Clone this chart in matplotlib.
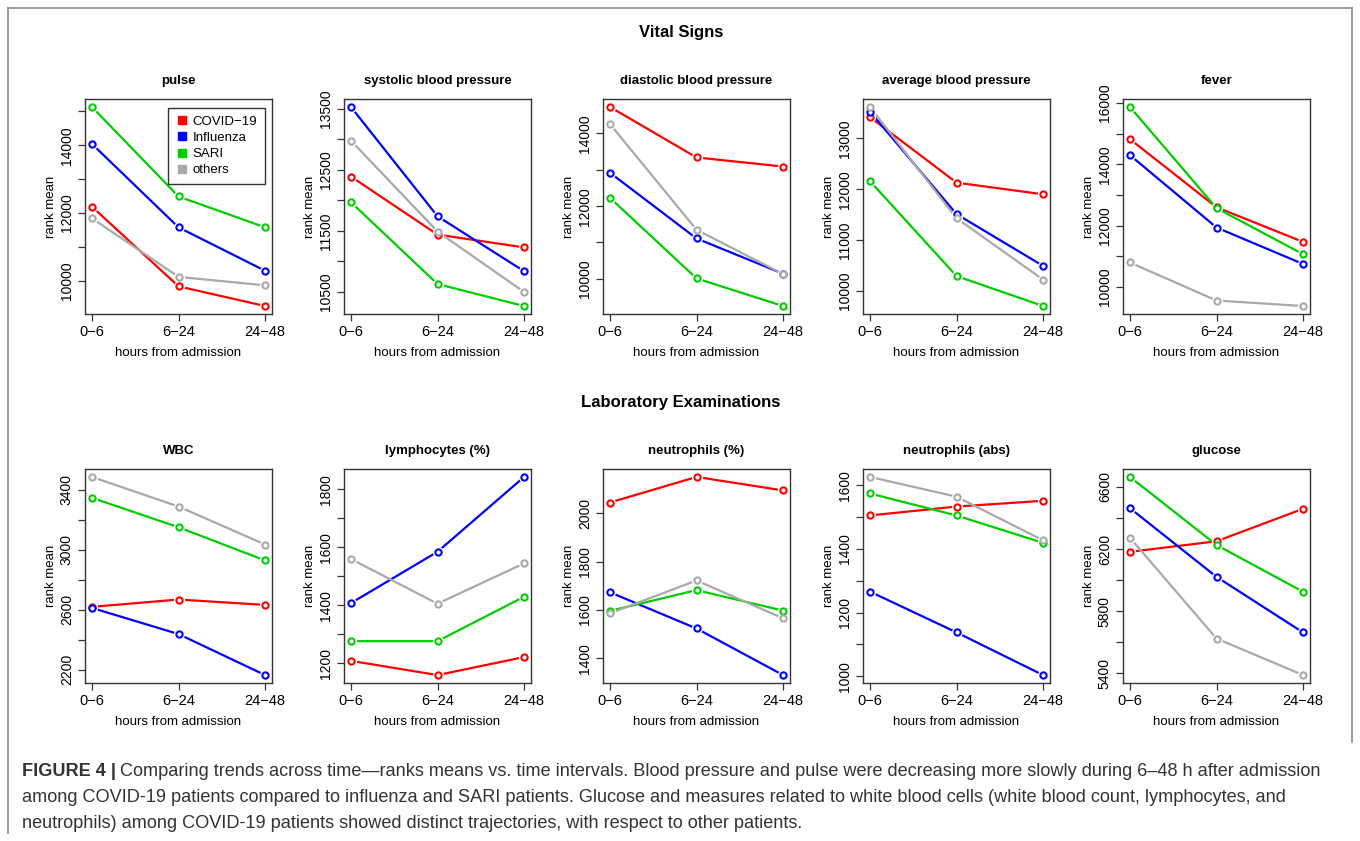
import numpy as np
import matplotlib
matplotlib.use("Agg")
import matplotlib.pyplot as plt
from matplotlib.lines import Line2D

plt.rcParams['font.family'] = ['Liberation Sans', 'DejaVu Sans']

# Data: rank means per time interval
intervals = ["0\u22126", "6\u221224", "24\u221248"]
groups = ["COVID\u221219", "Influenza", "SARI", "others"]
colors = ["#FF0000", "#0000FF", "#00CD00", "#A9A9A9"]

pulse_covid = [12190, 9840, 9260]
pulse_flu = [14040, 11580, 10300]
pulse_sari = [15130, 12490, 11580]
pulse_oth = [11850, 10120, 9870]

sys_covid = [12390, 11440, 11230]
sys_flu = [13530, 11740, 10840]
sys_sari = [11970, 10630, 10270]
sys_oth = [12980, 11490, 10500]

dia_covid = [14730, 13340, 13090]
dia_flu = [12920, 11110, 10140]
dia_sari = [12230, 10010, 9250]
dia_oth = [14260, 11350, 10130]

avg_covid = [13420, 12130, 11900]
avg_flu = [13530, 11510, 10490]
avg_sari = [12160, 10290, 9700]
avg_oth = [13620, 11430, 10220]

fev_covid = [14820, 12600, 11470]
fev_flu = [14300, 11940, 10750]
fev_sari = [15870, 12570, 11070]
fev_oth = [10800, 9560, 9380]

wbc_covid = [2619, 2668, 2632]
wbc_flu = [2612, 2438, 2165]
wbc_sari = [3345, 3149, 2928]
wbc_oth = [3484, 3287, 3034]

lym_covid = [1209, 1160, 1222]
lym_flu = [1408, 1585, 1843]
lym_sari = [1277, 1277, 1430]
lym_oth = [1560, 1406, 1545]

neup_covid = [2045, 2151, 2095]
neup_flu = [1673, 1523, 1330]
neup_sari = [1596, 1682, 1597]
neup_oth = [1586, 1722, 1565]

neua_covid = [1505, 1533, 1551]
neua_flu = [1266, 1138, 1004]
neua_sari = [1574, 1505, 1419]
neua_oth = [1626, 1564, 1427]

glu_covid = [6182, 6250, 6459]
glu_flu = [6463, 6021, 5663]
glu_sari = [6664, 6226, 5925]
glu_oth = [6273, 5624, 5389]

# (title, series, tick step, label every n-th tick)
vital = [
    ("pulse", [pulse_covid, pulse_flu, pulse_sari, pulse_oth], 1000, 2),
    ("systolic blood pressure", [sys_covid, sys_flu, sys_sari, sys_oth], 500, 2),
    ("diastolic blood pressure", [dia_covid, dia_flu, dia_sari, dia_oth], 1000, 2),
    ("average blood pressure", [avg_covid, avg_flu, avg_sari, avg_oth], 1000, 1),
    ("fever", [fev_covid, fev_flu, fev_sari, fev_oth], 1000, 2),
]
lab = [
    ("WBC", [wbc_covid, wbc_flu, wbc_sari, wbc_oth], 200, 2),
    ("lymphocytes (%)", [lym_covid, lym_flu, lym_sari, lym_oth], 100, 2),
    ("neutrophils (%)", [neup_covid, neup_flu, neup_sari, neup_oth], 200, 1),
    ("neutrophils (abs)", [neua_covid, neua_flu, neua_sari, neua_oth], 100, 2),
    ("glucose", [glu_covid, glu_flu, glu_sari, glu_oth], 200, 2),
]

W, H = 1360, 841
fig = plt.figure(figsize=(W / 100, H / 100), dpi=100)

lefts = [85, 344, 603, 863, 1123]
aw = 187
rows = [(99, 314, vital), (469, 683, lab)]
x = np.arange(1, 4)
box_col = "#333333"


def draw_panel(ax, title, series, step, every):
    for vals, c in zip(series, colors):
        ax.plot(x, vals, color=c, lw=1.6, zorder=2)
        ax.plot(x, vals, 'o', ms=7, color='white', mec='white', zorder=3)
        ax.plot(x, vals, 'o', ms=4.5, mfc='white', mec=c, mew=1.5, zorder=4)
    allv = np.concatenate(series)
    lo, hi = allv.min(), allv.max()
    pad = 0.04 * (hi - lo)
    ax.set_ylim(lo - pad, hi + pad)
    ax.set_xlim(0.92, 3.08)
    ticks = np.arange(np.ceil((lo - pad) / step) * step, hi + pad, step)
    ax.set_yticks(ticks)
    ax.set_yticklabels([f"{t:.0f}" if i % every == 0 else "" for i, t in enumerate(ticks)],
                       rotation=90, va='center', fontsize=10)
    ax.set_xticks(x)
    ax.set_xticklabels(intervals, fontsize=10.5)
    ax.tick_params(direction='out', length=5, width=0.9, color=box_col, pad=3)
    for s in ax.spines.values():
        s.set_color(box_col)
        s.set_linewidth(1.0)
    ax.set_title(title, fontsize=9.5, fontweight='bold', pad=11)
    ax.set_xlabel("hours from admission", fontsize=9.5, labelpad=6)
    ax.set_ylabel("rank mean", fontsize=9.5, labelpad=2)


axes = []
for top, bot, panels in rows:
    for left, (title, series, step, every) in zip(lefts, panels):
        ax = fig.add_axes([left / W, 1 - bot / H, aw / W, (bot - top) / H])
        draw_panel(ax, title, series, step, every)
        axes.append(ax)

handles = [Line2D([], [], marker='s', ls='', color=c, ms=6) for c in colors]
leg = axes[0].legend(handles, groups, loc='upper right', bbox_to_anchor=(1.0, 0.99),
                     fontsize=9.5, frameon=True, fancybox=False, handletextpad=0.3,
                     handlelength=1.0, borderpad=0.6, labelspacing=0.3)
leg.get_frame().set_edgecolor('black')
leg.get_frame().set_linewidth(1.0)

fig.text(681 / W, 1 - 32 / H, "Vital Signs", ha='center', va='center',
         fontsize=12, fontweight='bold')
fig.text(681 / W, 1 - 402 / H, "Laboratory Examinations", ha='center', va='center',
         fontsize=12, fontweight='bold')

# frame around the figure panel
frame_col = "#8c8c8c"
fig.add_artist(Line2D([8 / W, 8 / W], [1 - 833 / H, 1 - 8 / H], color=frame_col, lw=1.2))
fig.add_artist(Line2D([8 / W, 1352 / W], [1 - 8 / H, 1 - 8 / H], color=frame_col, lw=1.2))
fig.add_artist(Line2D([1352 / W, 1352 / W], [1 - 742 / H, 1 - 8 / H], color=frame_col, lw=1.2))

# caption
cap_col = "#333333"
cap_fs = 13.1
bold = fig.text(22 / W, 1 - 772 / H, "FIGURE 4 |", fontsize=cap_fs, fontweight='bold',
                color=cap_col, va='center')
fig.canvas.draw()
bb = bold.get_window_extent()
fig.text((bb.x1 + 4) / W, 1 - 772 / H,
         "Comparing trends across time\u2014ranks means vs. time intervals. Blood pressure and "
         "pulse were decreasing more slowly during 6\u201348 h after admission",
         fontsize=cap_fs, color=cap_col, va='center')
fig.text(22 / W, 1 - 798 / H,
         "among COVID-19 patients compared to influenza and SARI patients. Glucose and measures "
         "related to white blood cells (white blood count, lymphocytes, and",
         fontsize=cap_fs, color=cap_col, va='center')
fig.text(22 / W, 1 - 823 / H,
         "neutrophils) among COVID-19 patients showed distinct trajectories, with respect to "
         "other patients.",
         fontsize=cap_fs, color=cap_col, va='center')

fig.savefig("out.png", dpi=100)
